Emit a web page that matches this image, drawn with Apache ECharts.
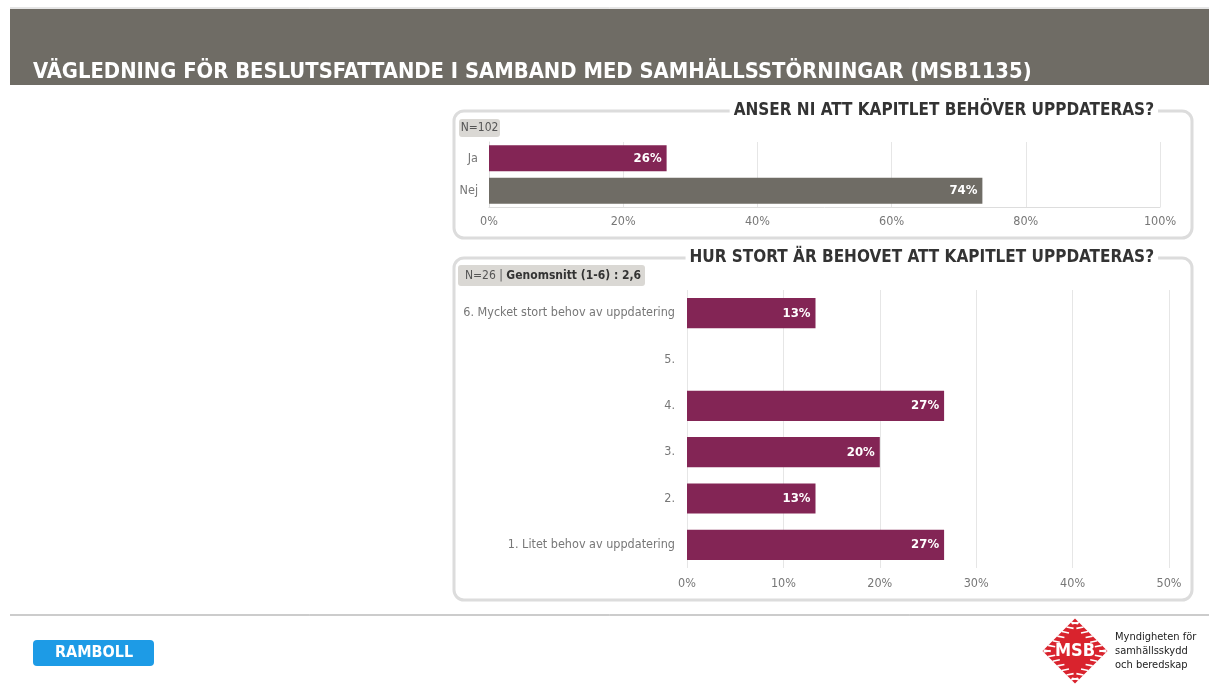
<!DOCTYPE html>
<html><head><meta charset="utf-8">
<script src="https://cdn.jsdelivr.net/npm/echarts@6/dist/echarts.min.js"></script>
<style>html,body{margin:0;padding:0;background:#fff}#c{width:1209px;height:689px}</style>
</head><body><div id="c"></div>
<script>
const FONT = '"DejaVu Sans Condensed","Liberation Sans Narrow","DejaVu Sans",sans-serif';
const pageTitle = 'VÄGLEDNING FÖR BESLUTSFATTANDE I SAMBAND MED SAMHÄLLSSTÖRNINGAR (MSB1135)';
const q1Title = 'ANSER NI ATT KAPITLET BEHÖVER UPPDATERAS?';
const q1Note = 'N=102';
const q1Categories = ['Ja', 'Nej'];
const q1Values = [26.47, 73.53];
const q1Ticks = [0, 20, 40, 60, 80, 100];
const q2Title = 'HUR STORT ÄR BEHOVET ATT KAPITLET UPPDATERAS?';
const q2NoteA = 'N=26 | ';
const q2NoteB = 'Genomsnitt (1-6) : 2,6';
const q2Categories = ['6. Mycket stort behov av uppdatering', '5.', '4.', '3.', '2.', '1. Litet behov av uppdatering'];
const q2Values = [13.33, 0, 26.67, 20, 13.33, 26.67];
const q2Ticks = [0, 10, 20, 30, 40, 50];

const PURPLE = '#832555', GRAY = '#6f6c65';
const chart = echarts.init(document.getElementById('c'));

const lbl = {show: true, position: 'insideRight', color: '#fff', fontWeight: 'bold', fontFamily: FONT, fontSize: 13,
  formatter: p => p.value > 0 ? Math.round(p.value) + '%' : ''};

// MSB logo: white hatching inside the diamond's outer band
const stripes = [];
for (let k = -3; k <= 3; k++) {
  const t = k * 6.5;
  const st = {stroke: '#fff', lineWidth: 1.6};
  const base = {type: 'line', x: 1075, y: 651, rotation: Math.PI / 4, z: 5};
  stripes.push({...base, shape: {x1: -23, y1: t - 2, x2: -17, y2: t + 2}, style: st});
  stripes.push({...base, shape: {x1: 17, y1: t - 2, x2: 23, y2: t + 2}, style: st});
  stripes.push({...base, shape: {x1: t - 2, y1: -23, x2: t + 2, y2: -17}, style: st});
  stripes.push({...base, shape: {x1: t - 2, y1: 17, x2: t + 2, y2: 23}, style: st});
}

chart.setOption({
  animation: false,
  textStyle: {fontFamily: FONT},
  grid: [
    {left: 489, right: 49, top: 142, height: 65},
    {left: 687, right: 40, top: 290, height: 278}
  ],
  xAxis: [
    {gridIndex: 0, type: 'value', min: 0, max: 100, interval: 20,
     axisLabel: {formatter: '{value}%', color: '#777', fontSize: 12.5, margin: 8, fontFamily: FONT},
     axisLine: {show: true, lineStyle: {color: '#ddd'}}, axisTick: {show: false},
     splitLine: {lineStyle: {color: '#e6e6e6'}}},
    {gridIndex: 1, type: 'value', min: 0, max: 50, interval: 10,
     axisLabel: {formatter: '{value}%', color: '#777', fontSize: 12.5, margin: 9, fontFamily: FONT},
     axisLine: {show: false}, axisTick: {show: false},
     splitLine: {lineStyle: {color: '#e6e6e6'}}}
  ],
  yAxis: [
    {gridIndex: 0, type: 'category', data: q1Categories, inverse: true,
     axisLabel: {color: '#777', fontSize: 12.5, margin: 11, fontFamily: FONT},
     axisLine: {show: true, lineStyle: {color: '#ddd'}}, axisTick: {show: false}},
    {gridIndex: 1, type: 'category', data: q2Categories, inverse: true,
     axisLabel: {color: '#777', fontSize: 12.5, margin: 12, fontFamily: FONT},
     axisLine: {show: false}, axisTick: {show: false}}
  ],
  series: [
    {type: 'bar', xAxisIndex: 0, yAxisIndex: 0, barCategoryGap: '20%',
     data: q1Values.map((v, i) => ({value: v, itemStyle: {color: i === 0 ? PURPLE : GRAY}})),
     label: lbl},
    {type: 'bar', xAxisIndex: 1, yAxisIndex: 1, barCategoryGap: '35%',
     itemStyle: {color: PURPLE}, data: q2Values, label: lbl}
  ],
  graphic: [
    {type: 'rect', shape: {x: 10, y: 9, width: 1199, height: 76}, style: {fill: GRAY}, z: 0},
    {type: 'line', shape: {x1: 10, y1: 8, x2: 1209, y2: 8}, style: {stroke: '#ccc', lineWidth: 1}},
    {type: 'text', x: 33, y: 72, style: {text: pageTitle, fill: '#fff', font: 'bold 21.8px ' + FONT, textVerticalAlign: 'middle'}},
    // box 1
    {type: 'rect', shape: {x: 454, y: 111, width: 738, height: 127, r: 10}, style: {fill: 'none', stroke: '#dcdcdc', lineWidth: 3}, z: 0},
    {type: 'text', x: 1158, y: 111, z: 10, style: {text: q1Title, fill: '#333', font: 'bold 17px ' + FONT, align: 'right', verticalAlign: 'middle', backgroundColor: '#fff', padding: [0, 4]}},
    {type: 'rect', shape: {x: 459, y: 119, width: 41, height: 18, r: 3}, style: {fill: '#dad8d4'}},
    {type: 'text', x: 479.5, y: 128, style: {text: q1Note, fill: '#555', font: '12px ' + FONT, align: 'center', verticalAlign: 'middle'}},
    // box 2
    {type: 'rect', shape: {x: 454, y: 258, width: 738, height: 342, r: 10}, style: {fill: 'none', stroke: '#dcdcdc', lineWidth: 3}, z: 0},
    {type: 'text', x: 1158, y: 258, z: 10, style: {text: q2Title, fill: '#333', font: 'bold 17px ' + FONT, align: 'right', verticalAlign: 'middle', backgroundColor: '#fff', padding: [0, 4]}},
    {type: 'rect', shape: {x: 458, y: 265, width: 187, height: 21, r: 3}, style: {fill: '#dad8d4'}},
    {type: 'text', x: 465, y: 276, style: {text: '{a|' + q2NoteA + '}{b|' + q2NoteB + '}', verticalAlign: 'middle',
      rich: {a: {fill: '#555', font: '12px ' + FONT}, b: {fill: '#333', font: 'bold 12px ' + FONT}}}},
    // footer
    {type: 'line', shape: {x1: 10, y1: 615, x2: 1209, y2: 615}, style: {stroke: '#999', lineWidth: 1}},
    {type: 'rect', shape: {x: 33, y: 640, width: 121, height: 26, r: 4}, style: {fill: '#1d9be6'}},
    {type: 'text', x: 94, y: 653, style: {text: 'RAMBOLL', fill: '#fff', font: 'bold 16px ' + FONT, align: 'center', verticalAlign: 'middle', letterSpacing: 7}},
    {type: 'rect', x: 1075, y: 651, rotation: Math.PI / 4, shape: {x: -23, y: -23, width: 46, height: 46}, style: {fill: '#d9232d'}, z: 4},
    ...stripes,
    {type: 'text', x: 1075, y: 651, z: 6, style: {text: 'MSB', fill: '#fff', font: 'bold 18px ' + FONT, align: 'center', verticalAlign: 'middle'}},
    {type: 'text', x: 1115, y: 651, style: {text: 'Myndigheten för\nsamhällsskydd\noch beredskap', fill: '#222', font: '11px ' + FONT, lineHeight: 14, verticalAlign: 'middle'}}
  ]
});
</script></body></html>
